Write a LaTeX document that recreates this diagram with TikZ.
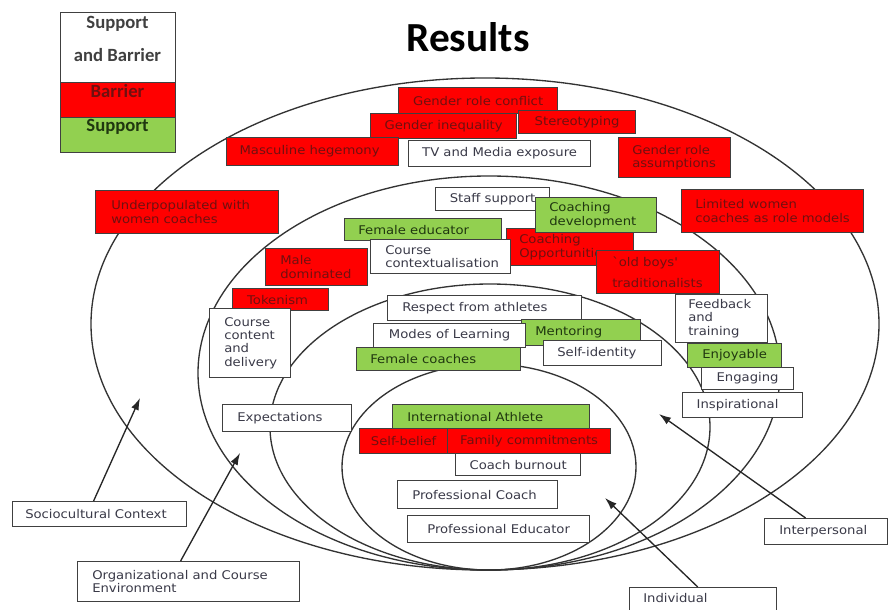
\documentclass[tikz,border=0pt]{standalone}
\usepackage{fontspec}
\setmainfont{DejaVu Sans}
\newfontfamily\boxfont[FakeStretch=1.1]{DejaVu Sans}
\newfontfamily\calfont{Carlito}
\usetikzlibrary{arrows.meta,calc}
\definecolor{grnfill}{HTML}{92D050}
\definecolor{redfill}{HTML}{FF0000}
\definecolor{rtxt}{HTML}{701010}
\definecolor{gtxt}{HTML}{203810}
\definecolor{wtxt}{HTML}{3A3A48}
\definecolor{edge}{HTML}{404040}
\tikzset{
  box/.style={draw=edge, line width=0.9pt, inner sep=0pt},
  wb/.style={fill=white},
  rb/.style={fill=redfill},
  gb/.style={fill=grnfill},
  txt/.style={font=\boxfont\fontsize{9}{10}\selectfont, inner sep=0pt, align=left},
  wbt/.style={text=wtxt},
  rbt/.style={text=rtxt},
  gbt/.style={text=gtxt},
  ring/.style={draw=black!80, line width=1pt},
  pointer/.style={draw=black!85, line width=1pt, -{Latex[length=9pt,width=6pt]}},
  legtxt/.style={font=\calfont\bfseries\fontsize{14}{16}\selectfont, inner sep=0pt, align=center},
}
\newcommand\bx[9]{%
  \pgfmathsetmacro\bxw{(#4-#2)*0.75}%
  \pgfmathsetmacro\bxh{(#5-#3)*0.75}%
  \node[box,#6,minimum width=\bxw pt,minimum height=\bxh pt,anchor=north west] (#1) at (#2,#3) {};%
  \ifx l#7\relax
    \node[txt,#6t,anchor=west] (#1-t) at ([xshift=#8*0.75pt]#1.west) {#9};%
  \else
    \node[txt,#6t] (#1-t) at ([xshift=#8*0.75pt]#1.center) {#9};%
  \fi}
\begin{document}
\begin{tikzpicture}[x=0.75pt,y=-0.75pt]
\useasboundingbox[fill=white] (0,0) rectangle (893,610);

% rings
\draw[ring] (485,324) ellipse [x radius=394, y radius=246];
\draw[ring] (489,373) ellipse [x radius=291, y radius=197];
\draw[ring] (490,427) ellipse [x radius=220, y radius=143];
\draw[ring] (489,467) ellipse [x radius=147, y radius=103];

% title
\node[font=\calfont\bfseries\fontsize{31}{34}\selectfont, anchor=base, inner sep=0pt] (title) at (468,52) {Results};

% legend
\node[box,wb,minimum width=86.25pt,minimum height=52.5pt,anchor=north west] (lsb) at (60,12) {};
\node[legtxt,text=black!75] (lsb-t) at (117.5,39) {Support\\[9pt]and Barrier};
\node[box,rb,minimum width=86.25pt,minimum height=26.25pt,anchor=north west] (lba) at (60,82) {};
\node[legtxt,text=rtxt,anchor=north] (lba-t) at (117.5,84) {Barrier};
\node[box,gb,minimum width=86.25pt,minimum height=26.25pt,anchor=north west] (lsu) at (60,117) {};
\node[legtxt,text=gtxt,anchor=north] (lsu-t) at (117.5,119) {Support};

% sociocultural
\bx{grc}{398}{87}{557}{113}{rb}{c}{0}{Gender role conflict}
\bx{gin}{370}{113}{516}{138}{rb}{c}{0}{Gender inequality}
\bx{ste}{518}{110}{635}{133}{rb}{c}{0}{Stereotyping}
\bx{mas}{226}{137}{398}{165}{rb}{c}{-3}{Masculine hegemony}
\bx{tvm}{408}{140}{590}{166}{wb}{c}{0}{TV and Media exposure}
\bx{gra}{618}{137}{730}{177}{rb}{l}{14}{Gender role\\assumptions}
\bx{und}{95}{190}{278}{233}{rb}{l}{16}{Underpopulated with\\women coaches}
\bx{lim}{681}{189}{863}{232}{rb}{l}{14}{Limited women\\coaches as role models}

% organizational
\bx{sta}{435}{187}{549}{210}{wb}{c}{0}{Staff support}
\bx{fed}{344}{218}{501}{240}{gb}{l}{14}{Female educator}
\bx{cop}{506}{228}{633}{265}{rb}{l}{13}{Coaching\\Opportunities}
\bx{cde}{535}{197}{656}{232}{gb}{l}{14}{Coaching\\development}
\bx{ccx}{370}{239}{510}{273}{wb}{l}{15}{Course\\contextualisation}
\bx{obt}{596}{250}{719}{293}{rb}{l}{16}{`old boys'\\[6pt]traditionalists}
\bx{mal}{265}{248}{367}{285}{rb}{l}{15}{Male\\dominated}
\bx{tok}{232}{288}{328}{310}{rb}{c}{-3}{Tokenism}
\bx{ccd}{209}{308}{290}{377}{wb}{l}{15}{Course\\content\\and\\delivery}
\bx{fbt}{675}{294}{767}{342}{wb}{l}{13}{Feedback\\and\\training}
\bx{enj}{687}{343}{781}{367}{gb}{c}{0}{Enjoyable}
\bx{eng}{701}{367}{793}{389}{wb}{c}{0}{Engaging}
\bx{ins}{682}{392}{802}{417}{wb}{c}{-5}{Inspirational}
\bx{exp}{222}{404}{351}{431}{wb}{l}{15}{Expectations}

% interpersonal
\bx{res}{387}{295}{581}{320}{wb}{l}{15}{Respect from athletes}
\bx{men}{521}{319}{640}{345}{gb}{l}{14}{Mentoring}
\bx{mol}{373}{323}{525}{347}{wb}{c}{0}{Modes of Learning}
\bx{fco}{356}{347}{520}{370}{gb}{l}{14}{Female coaches}
\bx{sid}{543}{340}{661}{365}{wb}{l}{14}{Self-identity}

% individual
\bx{ina}{392}{404}{589}{428}{gb}{l}{15}{International Athlete}
\bx{sbe}{359}{428}{447}{453}{rb}{c}{0}{Self-belief}
\bx{fam}{447}{428}{610}{453}{rb}{c}{0}{Family commitments}
\bx{cbu}{455}{453}{580}{475}{wb}{c}{0}{Coach burnout}
\bx{pco}{397}{480}{557}{508}{wb}{l}{15}{Professional Coach}
\bx{ped}{407}{515}{589}{542}{wb}{c}{0}{Professional Educator}

% level labels
\bx{soc}{12}{501}{186}{526}{wb}{l}{13}{Sociocultural Context}
\bx{org}{77}{561}{299}{601}{wb}{l}{15}{Organizational and Course\\Environment}
\bx{int}{764}{518}{887}{544}{wb}{l}{15}{Interpersonal}
\node[box,wb,minimum width=110.25pt,minimum height=30pt,anchor=north west] (ind) at (629,587) {};
\node[txt,wbt,anchor=west] (ind-t) at (643,598) {Individual};

% pointers
\coordinate (soc-tip) at (140,398);
\coordinate (org-tip) at (240,453);
\coordinate (int-tip) at (659,414);
\coordinate (ind-tip) at (605,498);
\draw[pointer] ([xshift=-4.5pt]soc.north) -- (soc-tip);
\draw[pointer] ([xshift=-6pt]org.north) -- (org-tip);
\draw[pointer] ([xshift=-15.4pt]int.north) -- (int-tip);
\draw[pointer] ([xshift=-4pt]ind.north) -- (ind-tip);
\end{tikzpicture}
\end{document}
